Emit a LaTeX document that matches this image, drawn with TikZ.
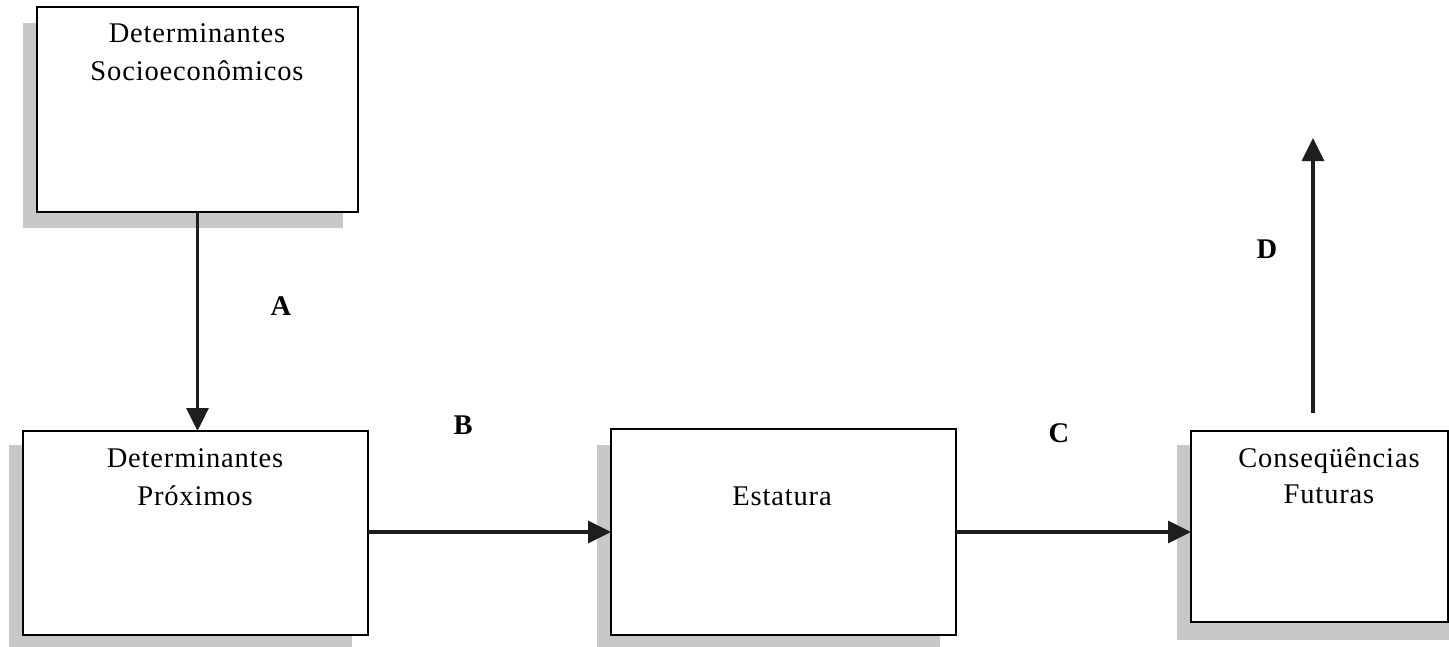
\documentclass[tikz,border=0pt]{standalone}
\usepackage{fontspec}
\setmainfont{Liberation Serif}[LetterSpace=3]
\usetikzlibrary{arrows.meta}
\definecolor{shadowgray}{RGB}{200,200,200}
\definecolor{arrowgray}{RGB}{30,30,30}
\begin{document}
\begin{tikzpicture}[x=1pt,y=-1pt,
  box/.style={draw=black, fill=white, line width=2.4pt, rectangle, anchor=north west, inner sep=0pt, outer sep=0pt},
  shade/.style={fill=shadowgray},
  txt/.style={font=\fontsize{28.5}{34}\selectfont, anchor=base, inner sep=0pt},
  lab/.style={font=\fontsize{28.5}{34}\selectfont\bfseries, anchor=base, inner sep=0pt},
  conn/.style={draw=arrowgray, line width=3.2pt, -{Triangle[length=23pt,width=22pt]}}]
\useasboundingbox (0,0) rectangle (1449,646);
% shadows
\fill[shade] (23,23) rectangle (343,228);
\fill[shade] (9,445) rectangle (352,648);
\fill[shade] (597,445) rectangle (940,648);
\fill[shade] (1177,445) rectangle (1449,640);
% boxes
\node[box, minimum width=321pt, minimum height=205pt] (s) at (37,7) {};
\node[box, minimum width=345pt, minimum height=204pt] (p) at (23,431) {};
\node[box, minimum width=345pt, minimum height=206pt] (e) at (611,429) {};
\node[box, minimum width=257pt, minimum height=191pt] (f) at (1191,431) {};
% texts
\node[txt] (s1) at (197,42) {Determinantes};
\node[txt] (s2) at (197,80) {Socioeconômicos};
\node[txt] (p1) at (195,467) {Determinantes};
\node[txt] (p2) at (195,505) {Próximos};
\node[txt] (e1) at (782,505) {Estatura};
\node[txt] (f1) at (1329,467) {Conseqüências};
\node[txt] (f2) at (1329,503) {Futuras};
% labels
\node[lab] (la) at (281,315) {A};
\node[lab] (lb) at (463,434) {B};
\node[lab] (lc) at (1059,442) {C};
\node[lab] (ld) at (1267,258) {D};
% connectors
\coordinate (dstart) at (1313,413);
\coordinate (dend) at (1313,138);
\draw[conn] (s.south) -- (s.south |- p.north);
\draw[conn] (p.east |- 0,532) -- (e.west |- 0,532);
\draw[conn] (e.east |- 0,532) -- (f.west |- 0,532);
\draw[conn] (dstart) -- (dend);
\end{tikzpicture}
\end{document}
